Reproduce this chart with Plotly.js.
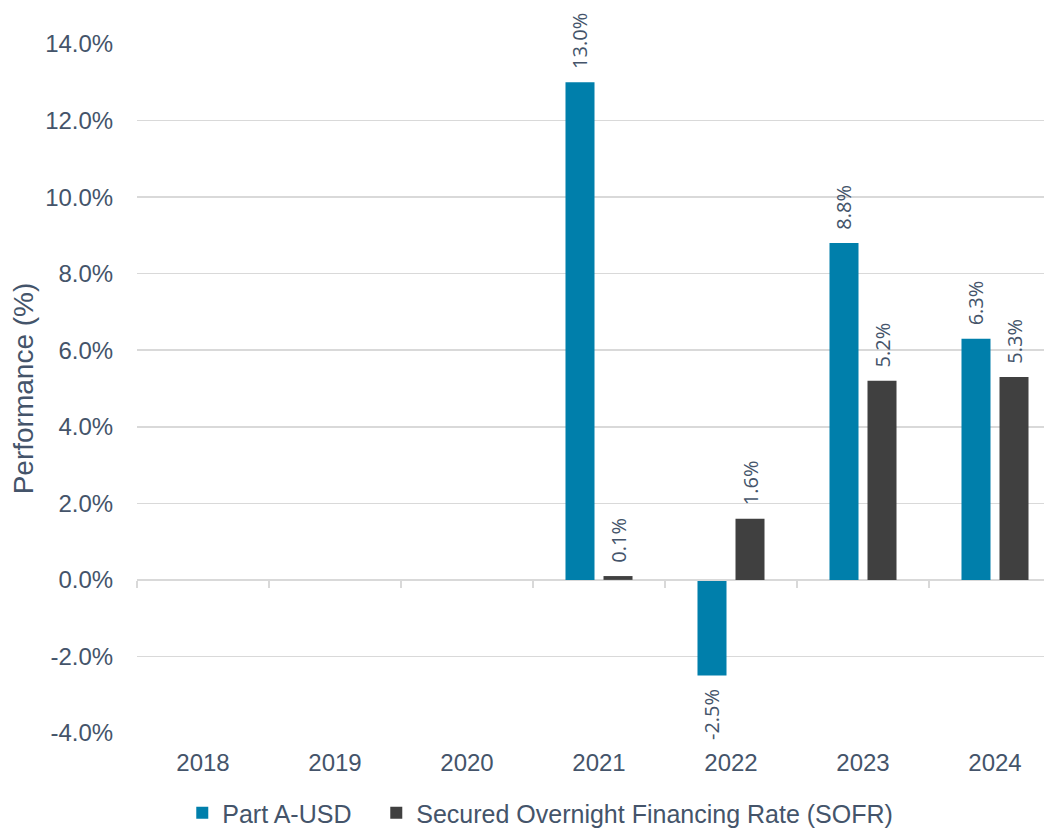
<!DOCTYPE html>
<html>
<head>
<meta charset="utf-8">
<script src="https://cdn.plot.ly/plotly-3.0.1.min.js"></script>
<style>
html,body{margin:0;padding:0;overflow:hidden;background:#fff;}
#chart{width:1075px;height:860px;}
</style>
</head>
<body>
<div id="chart"></div>
<script>
const categories = ['2018','2019','2020','2021','2022','2023','2024'];
const partA = [null, null, null, 13.0, -2.5, 8.8, 6.3];
const sofr = [null, null, null, 0.1, 1.6, 5.2, 5.3];
const seriesNames = ['Part A-USD', 'Secured Overnight Financing Rate (SOFR)'];
const yTicks = [-4, -2, 0, 2, 4, 6, 8, 10, 12, 14];

const PAD = '\u00A0\u00A0';
function labels(arr){
  return arr.map(v => v === null ? '' : (v >= 0 ? PAD + v.toFixed(1) + '%' : v.toFixed(1) + '%' + PAD));
}
const txtColor = '#44546a';
const labelFont = {family:'Open Sans, sans-serif', size:20, color:txtColor};

const traces = [
  {type:'bar', name:seriesNames[0], x:categories, y:partA, marker:{color:'#007fab'},
   text:labels(partA), textposition:'outside', textangle:-90, textfont:labelFont,
   constraintext:'none', cliponaxis:false, hoverinfo:'skip', legend:'legend'},
  {type:'bar', name:seriesNames[1], x:categories, y:sofr, marker:{color:'#404040'},
   text:labels(sofr), textposition:'outside', textangle:-90, textfont:labelFont,
   constraintext:'none', cliponaxis:false, hoverinfo:'skip', legend:'legend2'},
  {type:'scatter', mode:'markers', x:categories, y:categories.map(()=>null), xaxis:'x2', yaxis:'y',
   showlegend:false, hoverinfo:'skip'}
];

const legendBase = {orientation:'h', xanchor:'left', y:-0.1162, yanchor:'middle',
    font:{size:25, color:txtColor}, itemwidth:30, bgcolor:'rgba(0,0,0,0)'};

const layout = {
  width:1075, height:860,
  margin:{l:137, r:14, t:44, b:127},
  paper_bgcolor:'#fff', plot_bgcolor:'#fff',
  barmode:'group', bargap:0.424, bargroupgap:0.237,
  font:{family:'Liberation Sans, Arial, sans-serif', color:txtColor},
  xaxis:{type:'category', categoryorder:'array', categoryarray:categories, range:[-0.5,6.5],
    showgrid:false, zeroline:false, showline:false,
    ticks:'outside', ticklen:8, tickcolor:'rgba(0,0,0,0)',
    tickfont:{size:24, color:txtColor}, fixedrange:true},
  xaxis2:{type:'category', categoryorder:'array', categoryarray:categories, range:[-0.5,6.5],
    overlaying:'x', anchor:'free', position:4/18, side:'bottom',
    showline:true, linecolor:'#d9d9d9', linewidth:1.5,
    ticks:'outside', tickson:'boundaries', ticklen:7, tickwidth:1.5, tickcolor:'#d9d9d9',
    showticklabels:false, showgrid:false, zeroline:false},
  yaxis:{range:[-4,14], tickvals:yTicks, ticktext:yTicks.map(v=>v.toFixed(1)+'%'),
    showgrid:true, gridcolor:'#d9d9d9', gridwidth:1.5, zeroline:false, showline:false,
    ticks:'outside', ticklen:18, tickcolor:'rgba(0,0,0,0)',
    tickfont:{size:24, color:txtColor},
    title:{text:'Performance (%)', font:{size:28, color:txtColor}, standoff:3},
    automargin:false, fixedrange:true},
  legend:Object.assign({}, legendBase, {x:0.049}),
  legend2:Object.assign({}, legendBase, {x:0.049 + 194/924}),
  showlegend:true
};

Plotly.newPlot('chart', traces, layout, {displayModeBar:false, staticPlot:true});
</script>
</body>
</html>
